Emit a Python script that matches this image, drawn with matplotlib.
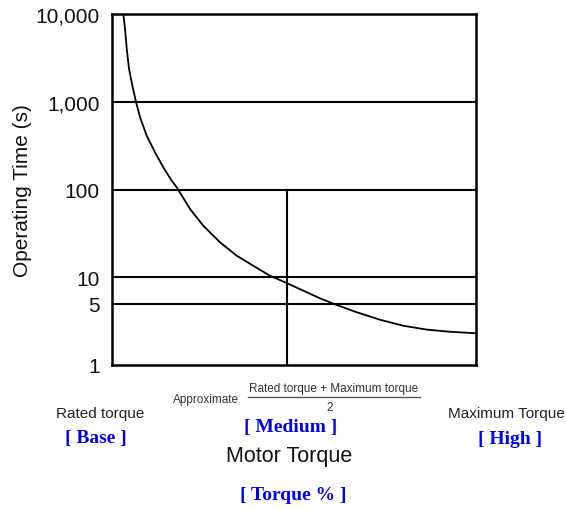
import matplotlib
matplotlib.use("Agg")
import matplotlib.pyplot as plt
from matplotlib.lines import Line2D

# curve: motor torque (% of range) vs operating time (s)
torque_pct = [3.10, 3.57, 4.04, 4.67, 5.58, 6.51, 7.69, 9.53, 11.81, 14.09,
              16.40, 17.77, 21.43, 25.08, 29.67, 34.26, 38.82, 43.41, 47.53,
              52.55, 57.14, 61.73, 67.23, 73.63, 80.03, 86.46, 92.86, 100.0]
operating_time = [10000, 6750, 3990, 2360, 1525, 1028, 665, 410, 265, 179,
                  126, 106, 60, 38.6, 25.0, 17.6, 13.5, 10.4, 8.76,
                  7.03, 5.75, 4.83, 3.99, 3.28, 2.80, 2.53, 2.39, 2.30]

grid_levels = [5, 10, 100, 1000]
ytick_values = [1, 5, 10, 100, 1000, 10000]
ytick_labels = ["1", "5", "10", "100", "1,000", "10,000"]
medium_torque = 48.1
medium_time = 100

plt.rcParams['font.family'] = ['Liberation Sans', 'DejaVu Sans']

fig = plt.figure(figsize=(5.66, 5.10), dpi=100)
ax = fig.add_axes([0.198, 0.2824, 0.643, 0.688])

ax.set_yscale('log')
ax.set_xlim(0, 100)
ax.set_ylim(1, 10000)

for lvl in grid_levels:
    ax.axhline(lvl, color='black', linewidth=1.5)
ax.plot([medium_torque, medium_torque], [1, medium_time], color='black', linewidth=1.5)
ax.plot(torque_pct, operating_time, color='black', linewidth=1.3, solid_joinstyle='round')

ax.set_yticks(ytick_values)
ax.set_yticklabels(ytick_labels, fontsize=15, color='#111111')
ax.minorticks_off()
ax.tick_params(axis='y', length=0, pad=9)
ax.set_xticks([])
for s in ax.spines.values():
    s.set_linewidth(1.8)
ax.set_ylabel("Operating Time (s)", fontsize=15, color='#111111')
ax.yaxis.set_label_coords(-0.245, 0.5)
ax.yaxis.label.set_va('center')

# labels under the axis
fig.text(100 / 566, 1 - 414 / 510, "Rated torque", fontsize=11, ha='center', va='center', color='#222222')
fig.text(506 / 566, 1 - 414 / 510, "Maximum Torque", fontsize=11, ha='center', va='center', color='#222222')
fig.text(206 / 566, 1 - 400 / 510, "Approximate", fontsize=8.5, ha='center', va='center', color='#333333')
fig.text(334 / 566, 1 - 389 / 510, "Rated torque + Maximum torque", fontsize=8.5, ha='center', va='center', color='#333333')
fig.add_artist(Line2D([248 / 566, 420 / 566], [1 - 398 / 510, 1 - 398 / 510],
                      transform=fig.transFigure, color='#555555', linewidth=1.0))
fig.text(330 / 566, 1 - 408 / 510, "2", fontsize=8.5, ha='center', va='center', color='#333333')
fig.text(289 / 566, 1 - 457 / 510, "Motor Torque", fontsize=15.5, ha='center', va='center', color='#111111')

blue = '#0000ee'
for x, y, s in [(96, 439, "[ Base ]"), (291, 428, "[ Medium ]"), (510, 439, "[ High ]"),
                (293, 496, "[ Torque % ]")]:
    fig.text(x / 566, 1 - y / 510, s, fontsize=14, fontweight='bold', family=['Liberation Serif'],
             ha='center', va='center', color=blue)

fig.savefig("out.png", dpi=100)
